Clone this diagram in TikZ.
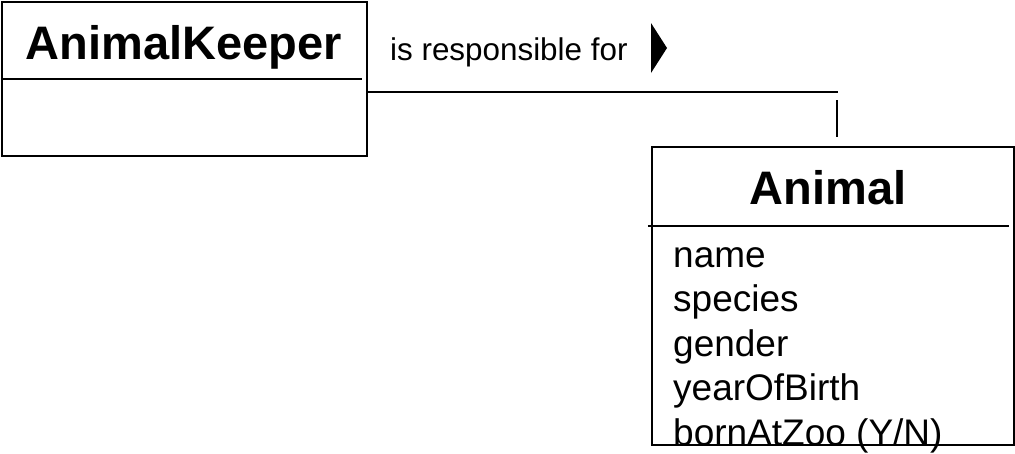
\documentclass[tikz,border=0pt]{standalone}
\usepackage{fontspec}
\setmainfont{Liberation Sans}
\usetikzlibrary{positioning}

\tikzset{
  classbox/.style={draw, line width=2.2pt, inner sep=0pt},
  classname/.style={font=\fontsize{47}{54}\selectfont\bfseries, anchor=base, inner sep=0pt},
  attribute/.style={font=\fontsize{37}{44}\selectfont, anchor=base west, inner sep=0pt},
  rolename/.style={font=\fontsize{31.4}{36}\selectfont, anchor=base west, inner sep=0pt},
  divider/.style={line width=2.2pt},
  assoc/.style={line width=2pt}
}

\begin{document}
\begin{tikzpicture}[x=1pt,y=-1pt]
    \useasboundingbox (0,0) rectangle (1015,453);

    % AnimalKeeper class
    \node[classbox, minimum width=365pt, minimum height=154pt] (keeper) at (184.5,79) {};
    \node[classname] (keepername) at (184,59) {AnimalKeeper};
    \draw[divider] (keeper.west |- 0,79) -- (362,79);

    % Animal class
    \node[classbox, minimum width=362pt, minimum height=298pt] (animal) at (833,296) {};
    \node[classname] (animalname) at (828,204) {Animal};
    \draw[divider] ([xshift=-3pt]animal.west |- 0,226) -- (1009,226);
    \foreach \attr [count=\i from 0] in {name,species,gender,yearOfBirth,bornAtZoo (Y/N)}
        \node[attribute] (attr\i) at (673,267+44.5*\i) {\attr};

    % association
    \node[rolename] (role) at (390,60) {is responsible for};
    \coordinate (dir) at (651,48);
    \fill (dir) ++(0,-25) -- ++(16,25) -- ++(-16,25) -- cycle;
    \coordinate (corner) at (838,92);
    \coordinate (stub) at (837,100);
    \draw[assoc] (keeper.east |- corner) -- (corner);
    \draw[assoc] (stub) -- ++(0,37);
\end{tikzpicture}
\end{document}
